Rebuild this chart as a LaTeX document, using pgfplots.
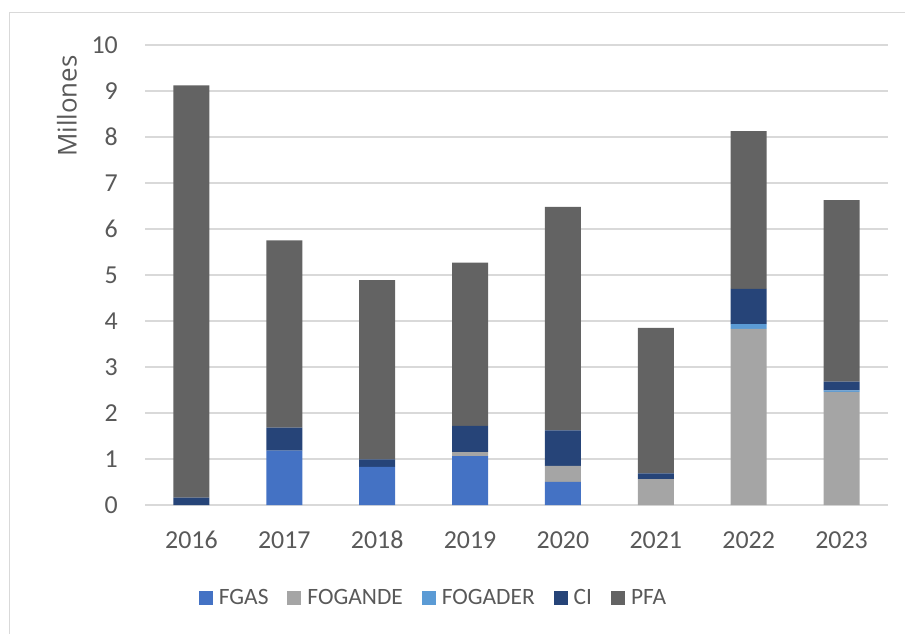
\documentclass[border=0pt]{standalone}
\usepackage{pgfplots}
\usepackage{pgfplotstable}
\pgfplotsset{compat=1.18}
\usepackage{fontspec}
\setmainfont{Carlito}
\newfontfamily\labfont{Open Sans}
\definecolor{cFGAS}{HTML}{4472C4}
\definecolor{cFOGANDE}{HTML}{A5A5A5}
\definecolor{cFOGADER}{HTML}{5B9BD5}
\definecolor{cCI}{HTML}{264478}
\definecolor{cPFA}{HTML}{636363}
\definecolor{txt}{HTML}{595959}
\definecolor{gridgray}{HTML}{D9D9D9}
\pgfplotstableread{
x FGAS FOGANDE FOGADER CI PFA
0 0    0    0    0.16 8.96
1 1.18 0    0    0.50 4.07
2 0.83 0    0    0.16 3.90
3 1.06 0.09 0    0.57 3.55
4 0.50 0.35 0    0.77 4.86
5 0    0.56 0    0.13 3.16
6 0    3.83 0.10 0.77 3.43
7 0    2.46 0.03 0.19 3.95
}\data
\begin{document}
\begin{tikzpicture}
\useasboundingbox (0,0) rectangle (905bp,634bp);
\draw[gridgray, line width=1.5bp] (9.5bp,0) -- (9.5bp,621.5bp) -- (905bp,621.5bp);
\begin{axis}[
  at={(145bp,129bp)}, anchor=south west,
  scale only axis, width=743bp, height=460bp,
  ybar stacked, bar width=36bp,
  xmin=-0.5, xmax=7.5, ymin=0, ymax=10,
  xtick=data, xticklabels={2016,2017,2018,2019,2020,2021,2022,2023},
  ytick={0,1,...,10},
  xmajorgrids=false, ymajorgrids=true,
  grid style={draw=gridgray, line width=1.5bp},
  axis line style={draw=none},
  major tick length=0pt,
  /pgf/number format/assume math mode=true,
  tick label style={font=\fontsize{26}{30}\selectfont, text=txt, inner sep=0pt},
  yticklabel style={anchor=east, xshift=-27bp},
  xticklabel style={anchor=base, yshift=-43bp},
  clip=false,
  legend columns=-1,
  legend style={at={(0.387,-0.202)}, anchor=center, draw=none, fill=none,
    font=\fontsize{23.5}{28}\selectfont, text=txt,
    nodes={inner sep=0pt},
    /tikz/every odd column/.append style={column sep=6bp},
    /tikz/every even column/.append style={column sep=19bp}},
  legend image code/.code={\draw[#1,draw=none] (0bp,-7bp) rectangle (14bp,7bp);},
]
\addplot[fill=cFGAS, draw=none] table[x=x, y=FGAS] {\data};
\addplot[fill=cFOGANDE, draw=none] table[x=x, y=FOGANDE] {\data};
\addplot[fill=cFOGADER, draw=none] table[x=x, y=FOGADER] {\data};
\addplot[fill=cCI, draw=none] table[x=x, y=CI] {\data};
\addplot[fill=cPFA, draw=none] table[x=x, y=PFA] {\data};
\legend{FGAS,FOGANDE,FOGADER,CI,PFA}
\end{axis}
\node[rotate=90, text=txt, font=\labfont\fontsize{26}{30}\selectfont] at (67bp,528bp) {Millones};
\end{tikzpicture}
\end{document}
